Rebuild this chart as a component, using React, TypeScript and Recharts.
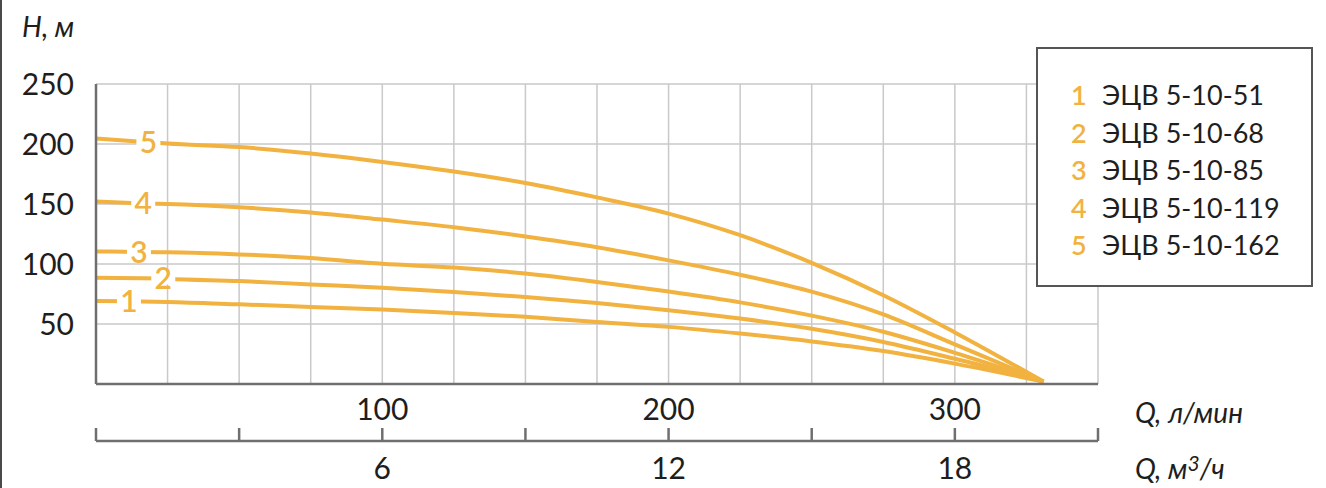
import { LineChart, Line, XAxis, YAxis, CartesianGrid, Legend } from 'recharts';

// flow, l/min (shared by all curves)
const FLOW_LPM = [0, 25, 50, 75, 100, 125, 150, 175, 200, 225, 250, 275, 300, 331];

// head, m — one array per pump model
const HEAD_51 = [69.2, 68.4, 66.4, 64.2, 62, 59.2, 56, 51.7, 47.6, 42, 35.5, 27.5, 17, 2];
const HEAD_68 = [88.6, 87.8, 85.8, 83, 80.3, 76.7, 72.5, 67.5, 61.5, 54.5, 46, 35, 21, 2];
const HEAD_85 = [110.5, 109.8, 108, 105, 100.2, 97, 92, 85, 77, 68, 57, 43.5, 26, 2];
const HEAD_119 = [152, 150, 147.3, 143, 137, 130.7, 123, 114, 103, 91, 77, 58, 33, 2];
const HEAD_162 = [204.5, 200.4, 197.5, 192, 185, 177, 167.5, 155.5, 142, 124, 101, 74, 43, 2];

const MODELS = ['ЭЦВ 5-10-51', 'ЭЦВ 5-10-68', 'ЭЦВ 5-10-85', 'ЭЦВ 5-10-119', 'ЭЦВ 5-10-162'];
const HEADS = [HEAD_51, HEAD_68, HEAD_85, HEAD_119, HEAD_162];

// where the number tag sits on each curve
const TAG_FLOW = [11.5, 23.5, 15, 16.5, 18.3];
const TAG_HEAD = [69, 88, 110, 150.5, 201.5];

const LPM_TICKS = [0, 25, 50, 75, 100, 125, 150, 175, 200, 225, 250, 275, 300, 325, 350];
const LPM_LABELS = [100, 200, 300];
const M3H_TICKS = [0, 3, 6, 9, 12, 15, 18, 21];
const M3H_LABELS = [6, 12, 18];
const HEAD_TICKS = [0, 50, 100, 150, 200, 250];

const ORANGE = '#F1B23F';
const AXIS = '#6f6f6f';
const INK = '#1e1e1e';
const FONT = 'Lato, "Open Sans", sans-serif';

const seriesData = HEADS.map((heads, i) => {
  const pts = FLOW_LPM.map((q, j) => ({ q, h: heads[j], tag: false }));
  pts.push({ q: TAG_FLOW[i], h: TAG_HEAD[i], tag: true });
  return pts.sort((a, b) => a.q - b.q);
});

// empty helper series so the m³/h axis gets its domain
const m3Data = M3H_TICKS.map((m3) => ({ m3 }));

function curveTag(num: number, data: { tag: boolean }[]) {
  return (props: any) => {
    const { x, y, index } = props;
    if (!data[index] || !data[index].tag) return null;
    return (
      <g>
        <rect x={x - 12} y={y - 6} width={24} height={12} fill="#fff" />
        <text
          x={x}
          y={y + 11}
          textAnchor="middle"
          fill={ORANGE}
          fontSize={30}
          fontWeight={600}
          fontFamily={FONT}
        >
          {num}
        </text>
      </g>
    );
  };
}

function M3Tick(props: any) {
  const { x, y, payload } = props;
  return (
    <g>
      <line x1={x} y1={y - 13} x2={x} y2={y} stroke={AXIS} strokeWidth={2.5} />
      {M3H_LABELS.includes(payload.value) && (
        <text x={x} y={y + 38} textAnchor="middle" fill={INK} fontSize={30} fontFamily={FONT}>
          {payload.value}
        </text>
      )}
    </g>
  );
}

function LegendBox() {
  return (
    <div
      style={{
        boxSizing: 'border-box',
        width: 277,
        height: 240,
        border: '2px solid #555',
        background: '#fff',
        paddingTop: 27,
        paddingLeft: 33,
        fontFamily: FONT,
        fontSize: 27,
        color: INK,
        textAlign: 'left',
      }}
    >
      {MODELS.map((m, i) => (
        <div key={m} style={{ display: 'flex', height: 37.5, alignItems: 'center' }}>
          <span style={{ width: 31, color: ORANGE, fontWeight: 600 }}>{i + 1}</span>
          <span>{m}</span>
        </div>
      ))}
    </div>
  );
}

const titleStyle = {
  position: 'absolute' as const,
  fontFamily: FONT,
  fontStyle: 'italic',
  fontSize: 28,
  color: INK,
  lineHeight: '34px',
};

export default function App() {
  return (
    <div
      style={{
        position: 'absolute',
        left: 0,
        top: 0,
        width: 1326,
        height: 488,
        background: '#fff',
        overflow: 'hidden',
      }}
    >
      <div style={{ position: 'absolute', left: 0, top: 0, width: 2, height: 488, background: '#4a4a4a' }} />
      <LineChart
        width={1326}
        height={488}
        margin={{ top: 84, right: 228, left: 20, bottom: 7 }}
      >
        <CartesianGrid stroke="#c9c9c9" strokeWidth={1.5} />
        <XAxis
          type="number"
          dataKey="q"
          domain={[0, 350]}
          allowDataOverflow
          ticks={LPM_TICKS}
          tickFormatter={(v) => (LPM_LABELS.includes(v) ? String(v) : '')}
          height={57}
          tickLine={false}
          tickSize={0}
          tickMargin={15}
          axisLine={{ stroke: AXIS, strokeWidth: 2.5 }}
          tick={{ fill: INK, fontSize: 30, fontFamily: FONT }}
        />
        <XAxis
          xAxisId="m3"
          type="number"
          dataKey="m3"
          domain={[0, 21]}
          allowDataOverflow
          ticks={M3H_TICKS}
          height={40}
          tickLine={false}
          tickSize={0}
          tickMargin={0}
          axisLine={{ stroke: AXIS, strokeWidth: 2.5 }}
          tick={<M3Tick />}
        />
        <YAxis
          type="number"
          domain={[0, 250]}
          allowDataOverflow
          ticks={HEAD_TICKS}
          tickFormatter={(v) => (v === 0 ? '' : String(v))}
          width={76}
          tickLine={false}
          tickSize={0}
          tickMargin={22}
          axisLine={{ stroke: AXIS, strokeWidth: 2.5 }}
          tick={{ fill: INK, fontSize: 30, fontFamily: FONT }}
        />
        {seriesData.map((data, i) => (
          <Line
            key={MODELS[i]}
            data={data}
            dataKey="h"
            name={MODELS[i]}
            type="monotone"
            stroke={ORANGE}
            strokeWidth={4}
            dot={false}
            activeDot={false}
            isAnimationActive={false}
            label={curveTag(i + 1, data)}
          />
        ))}
        <Line
          xAxisId="m3"
          data={m3Data}
          dataKey="h"
          stroke="none"
          dot={false}
          activeDot={false}
          legendType="none"
          isAnimationActive={false}
        />
        <Legend
          layout="vertical"
          align="center"
          verticalAlign="middle"
          content={() => <LegendBox />}
          wrapperStyle={{ left: 1036, top: 47, width: 277, height: 240 }}
        />
      </LineChart>
      <div style={{ ...titleStyle, left: 22, top: 9 }}>H, м</div>
      <div style={{ ...titleStyle, left: 1135, top: 395 }}>Q, л/мин</div>
      <div style={{ ...titleStyle, left: 1135, top: 451 }}>
        Q, м<sup style={{ fontSize: 21, verticalAlign: 'top', position: 'relative', top: -5 }}>3</sup>/ч
      </div>
    </div>
  );
}
